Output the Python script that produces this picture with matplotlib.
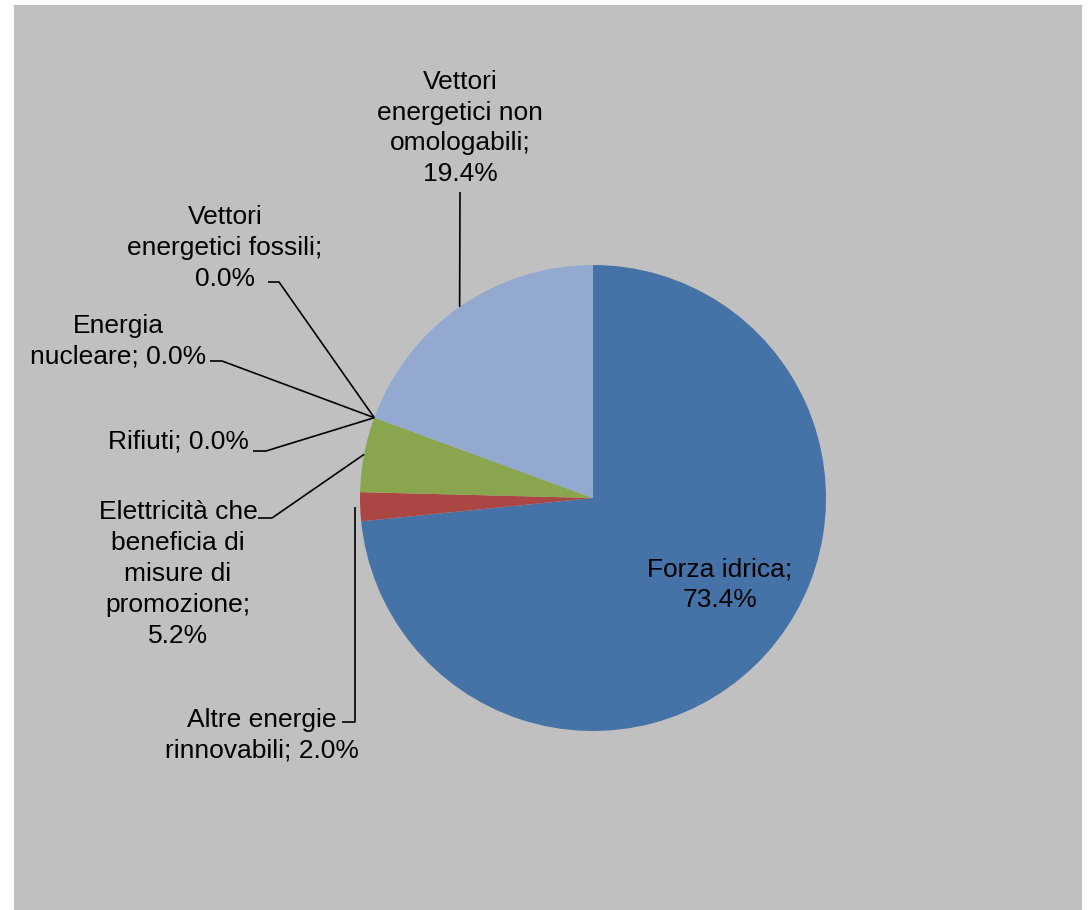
import numpy as np
import matplotlib
matplotlib.use("Agg")
import matplotlib.pyplot as plt
from matplotlib.patches import Rectangle

# ---- data ----
categories = [
    "Forza idrica",
    "Altre energie rinnovabili",
    "Elettricità che beneficia di misure di promozione",
    "Rifiuti",
    "Energia nucleare",
    "Vettori energetici fossili",
    "Vettori energetici non omologabili",
]
shares = [73.4, 2.0, 5.2, 0.0, 0.0, 0.0, 19.4]
label_texts = [
    "Forza idrica;\n73.4%",
    "Altre energie\nrinnovabili; 2.0%",
    "Elettricità che\nbeneficia di\nmisure di\npromozione;\n5.2%",
    "Rifiuti; 0.0%",
    "Energia\nnucleare; 0.0%",
    "Vettori\nenergetici fossili;\n0.0%",
    "Vettori\nenergetici non\nomologabili;\n19.4%",
]
colors = ["#4572A7", "#AA4643", "#89A54E", "#80699B", "#3D96AE", "#DB843D", "#93A9CF"]

W, H = 1088, 910
fig = plt.figure(figsize=(W / 100, H / 100), dpi=100)
fig.patch.set_facecolor("white")
ax = fig.add_axes([0, 0, 1, 1])

def Y(y):
    return H - y

ax.add_patch(Rectangle((14, Y(910)), 1068, 905, facecolor="#C0C0C0", edgecolor="none", zorder=0))

cx, cy, R = 593, Y(498), 233
wedges, _ = ax.pie(shares, colors=colors, startangle=90, counterclock=False,
                   center=(cx, cy), radius=R, frame=True,
                   wedgeprops=dict(linewidth=0, edgecolor="none"))
ax.set_xlim(0, W)
ax.set_ylim(0, H)
ax.set_aspect("equal")
ax.axis("off")

def mid_point(w):
    a = np.deg2rad((w.theta1 + w.theta2) / 2)
    return cx + R * np.cos(a), cy + R * np.sin(a)

font = dict(family=["Liberation Sans", "DejaVu Sans"], size=19, color="black")

# label layout in image coords
layout = {
    0: dict(xy=(720, 585), ha="center", ma="center", path=None),
    1: dict(xy=(262, 735), ha="center", ma="center", path=[(342, 722), (355, 722), (355, None)]),
    2: dict(xy=(178, 574), ha="center", ma="center", path=[(258, 518), (272, 518)]),
    3: dict(xy=(178, 442), ha="center", ma="center", path=[(253, 451), (266, 451)]),
    4: dict(xy=(118, 341), ha="center", ma="center", path=[(210, 361), (222, 361)]),
    5: dict(xy=(225, 248), ha="center", ma="center", path=[(268, 282), (279, 282)]),
    6: dict(xy=(460, 128), ha="center", ma="center", path=[(460, 192)]),
}

for i, w in enumerate(wedges):
    lay = layout[i]
    tx, ty = lay["xy"]
    ax.text(tx, Y(ty), label_texts[i], ha=lay["ha"], va="center", multialignment=lay["ma"],
            linespacing=1.36, **font, zorder=5)
    if lay["path"] is not None:
        px, py = mid_point(w)
        pts = []
        for (x, y) in lay["path"]:
            pts.append((x, Y(y) if y is not None else py))
        if i != 1:
            pts.append((px, py))
        xs, ys = zip(*pts)
        ax.plot(xs, ys, color="black", lw=1.2, zorder=4, solid_capstyle="butt")

fig.savefig("out.png", dpi=100, facecolor=fig.get_facecolor())
